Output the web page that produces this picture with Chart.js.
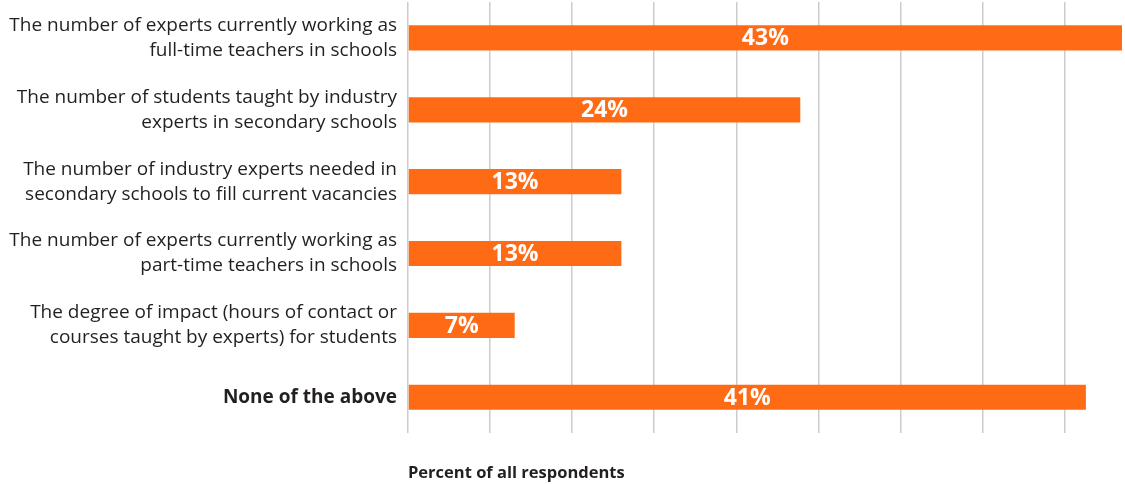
<!DOCTYPE html>
<html>
<head>
<meta charset="utf-8">
<script src="https://cdn.jsdelivr.net/npm/chart.js@4"></script>
<style>
  html, body { margin: 0; padding: 0; background: #ffffff; }
  #wrap { position: relative; width: 1125px; height: 484px; }
</style>
</head>
<body>
<div id="wrap"><canvas id="c"></canvas></div>
<script>
const categories = [
  ["The number of experts currently working as", "full-time teachers in schools"],
  ["The number of students taught by industry", "experts in secondary schools"],
  ["The number of industry experts needed in", "secondary schools to fill current vacancies"],
  ["The number of experts currently working as", "part-time teachers in schools"],
  ["The degree of impact (hours of contact or", "courses taught by experts) for students"],
  "None of the above"
];
const values = [43.5, 23.9, 13.0, 13.0, 6.5, 41.3];
const valueLabels = ["43%", "24%", "13%", "13%", "7%", "41%"];
const axisTitle = "Percent of all respondents";

const barLabels = {
  id: 'barLabels',
  afterDatasetsDraw(chart) {
    const ctx = chart.ctx;
    const meta = chart.getDatasetMeta(0);
    ctx.save();
    ctx.fillStyle = '#ffffff';
    ctx.font = 'bold 23px "Open Sans", sans-serif';
    ctx.textAlign = 'center';
    ctx.textBaseline = 'middle';
    meta.data.forEach((bar, i) => {
      const cx = (bar.base + bar.x) / 2;
      ctx.fillText(valueLabels[i], cx, bar.y + 1);
    });
    ctx.restore();
  }
};

new Chart(document.getElementById('c'), {
  type: 'bar',
  data: {
    labels: categories,
    datasets: [{
      data: values,
      backgroundColor: '#FF6B15',
      borderWidth: 0,
      categoryPercentage: 1.0,
      barPercentage: 0.35
    }]
  },
  options: {
    indexAxis: 'y',
    responsive: true,
    maintainAspectRatio: false,
    animation: false,
    layout: { padding: { top: 2, right: 3, left: 0, bottom: 0 } },
    plugins: { legend: { display: false }, tooltip: { enabled: false } },
    scales: {
      x: {
        min: 0,
        max: 43.5,
        afterBuildTicks(scale) {
          scale.ticks = scale.ticks.filter(t => t.value % 5 === 0);
        },
        afterFit(scale) { scale.paddingLeft = 0; scale.paddingRight = 0; },
        ticks: { display: false, stepSize: 5 },
        grid: { color: '#cccccc', lineWidth: 1.5, drawTicks: false },
        border: { display: false },
        title: {
          display: true,
          text: axisTitle,
          align: 'start',
          color: '#231f20',
          font: { family: '"Open Sans", sans-serif', size: 16.5, weight: 'bold' },
          padding: { top: 30, bottom: 1 }
        }
      },
      y: {
        afterFit(scale) {
          scale.width = 408;
          scale.paddingTop = 0;
          scale.paddingBottom = 0;
        },
        grid: { display: false, drawTicks: false },
        border: { display: false },
        ticks: {
          color: '#231f20',
          padding: 11,
          font: (ctx) => ({
            family: '"Open Sans", sans-serif',
            size: 19,
            lineHeight: 1.32,
            weight: ctx.index === 5 ? 'bold' : 'normal'
          })
        }
      }
    }
  },
  plugins: [barLabels]
});
</script>
</body>
</html>
